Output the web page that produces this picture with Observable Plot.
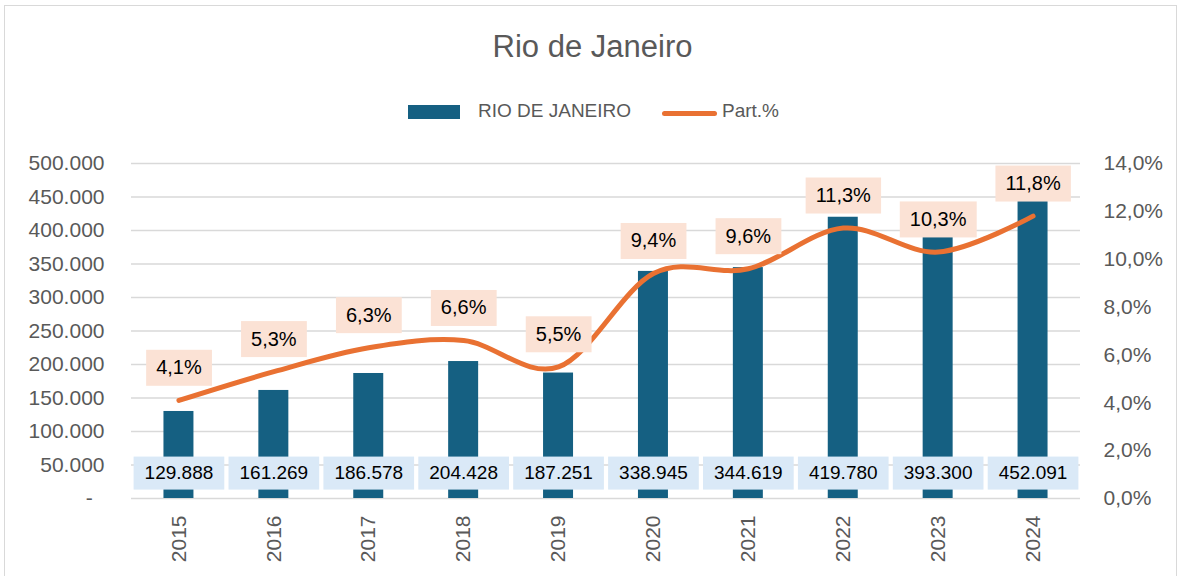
<!DOCTYPE html>
<html>
<head>
<meta charset="utf-8">
<script src="https://cdn.jsdelivr.net/npm/d3@7"></script>
<script src="https://cdn.jsdelivr.net/npm/@observablehq/plot@0.6"></script>
<style>
  html, body { margin: 0; padding: 0; background: #fff; }
  #wrap { position: relative; width: 1181px; height: 576px; overflow: hidden; font-family: "Liberation Sans", Arial, sans-serif; }
  #frame { position: absolute; left: 4px; top: 5px; width: 1173px; height: 640px; border: 1.5px solid #d9d9d9; box-sizing: border-box; }
  #chart { position: absolute; left: 0; top: 0; }
  .title { position: absolute; left: 2px; width: 1181px; top: 31px; text-align: center; font-size: 31px; line-height: 31px; color: #595959; }
  .leg { position: absolute; font-size: 19px; line-height: 19px; color: #595959; white-space: nowrap; }
</style>
</head>
<body>
<div id="wrap">
  <div id="frame"></div>
  <div id="chart"></div>
  <div class="title">Rio de Janeiro</div>
  <div style="position:absolute;left:408px;top:105px;width:52px;height:14px;background:#156082"></div>
  <div class="leg" style="left:478px;top:101px;">RIO DE JANEIRO</div>
  <div style="position:absolute;left:662px;top:110.5px;width:55px;height:5px;border-radius:3px;background:#E97132"></div>
  <div class="leg" style="left:722px;top:101px;">Part.%</div>
</div>
<script>
const years = ["2015","2016","2017","2018","2019","2020","2021","2022","2023","2024"];
const values = [129888, 161269, 186578, 204428, 187251, 338945, 344619, 419780, 393300, 452091];
const shares = [4.1, 5.3, 6.3, 6.6, 5.5, 9.4, 9.6, 11.3, 10.3, 11.8];
const leftTicks = [0, 50000, 100000, 150000, 200000, 250000, 300000, 350000, 400000, 450000, 500000];
const rightTicks = [0, 2, 4, 6, 8, 10, 12, 14];

const leftMax = 500000;
const rightMax = 14;
const toLeft = p => p / rightMax * leftMax;

const data = years.map((y, i) => ({year: y, value: values[i], share: shares[i]}));

const loc = d3.formatLocale({decimal: ",", thousands: ".", grouping: [3], currency: ["R$ ", ""]});
const fmtInt = loc.format(",.0f");
const fmtPct = loc.format(".1%");

const font = "Liberation Sans, Arial, sans-serif";

const plot = Plot.plot({
  width: 1181,
  height: 576,
  marginLeft: 131,
  marginRight: 101,
  marginTop: 163,
  marginBottom: 78,
  style: {fontFamily: font, color: "#595959", background: "transparent", overflow: "visible"},
  x: {type: "band", domain: years, paddingInner: 0.684, paddingOuter: 0.342, round: false, label: null},
  y: {domain: [0, leftMax], label: null},
  marks: [
    Plot.gridY(leftTicks, {stroke: "#d9d9d9", strokeOpacity: 1, strokeWidth: 1.5}),
    Plot.barY(data, {x: "year", y: "value", fill: "#156082"}),
    Plot.line(data, {x: "year", y: d => toLeft(d.share), stroke: "#E97132", strokeWidth: 5, curve: "cardinal", strokeLinecap: "round", strokeLinejoin: "round"}),
    Plot.text(data, {x: "year", frameAnchor: "bottom", dy: -25.5, text: d => fmtInt(d.value), fontSize: 19, fill: "#000", lineAnchor: "middle"}),
    Plot.text(data, {x: "year", y: d => toLeft(d.share), dy: -32.5, text: d => fmtPct(d.share / 100), fontSize: 20, fill: "#000", lineAnchor: "middle"}),
    Plot.axisY(leftTicks, {anchor: "left", tickSize: 0, tickPadding: 27, fontSize: 21, label: null,
      tickFormat: d => d === 0 ? "-\u00A0\u00A0" : fmtInt(d)}),
    Plot.axisY(rightTicks.map(toLeft), {anchor: "right", tickSize: 0, tickPadding: 23, fontSize: 21, label: null,
      tickFormat: d => fmtPct(Math.round(d / leftMax * rightMax * 10) / 1000)}),
    Plot.axisX({tickRotate: -90, tickSize: 0, tickPadding: 17, fontSize: 21, label: null})
  ]
});

document.getElementById("chart").appendChild(plot);

// label background boxes
const groups = plot.querySelectorAll('g[aria-label="text"]');
const boxSpecs = [
  {fill: "#dae9f7", padX: 11, h: 33},
  {fill: "#fbe2d5", padX: 10, h: 36}
];
groups.forEach((g, gi) => {
  const spec = boxSpecs[gi];
  if (!spec) return;
  g.querySelectorAll("text").forEach(t => {
    const bb = t.getBBox();
    const r = document.createElementNS("http://www.w3.org/2000/svg", "rect");
    const cy = bb.y + bb.height / 2 + 0.5;
    r.setAttribute("x", bb.x - spec.padX);
    r.setAttribute("y", cy - spec.h / 2);
    r.setAttribute("width", bb.width + 2 * spec.padX);
    r.setAttribute("height", spec.h);
    r.setAttribute("fill", spec.fill);
    const tr = t.getAttribute("transform");
    if (tr) r.setAttribute("transform", tr);
    t.parentNode.insertBefore(r, t);
  });
});
</script>
</body>
</html>
